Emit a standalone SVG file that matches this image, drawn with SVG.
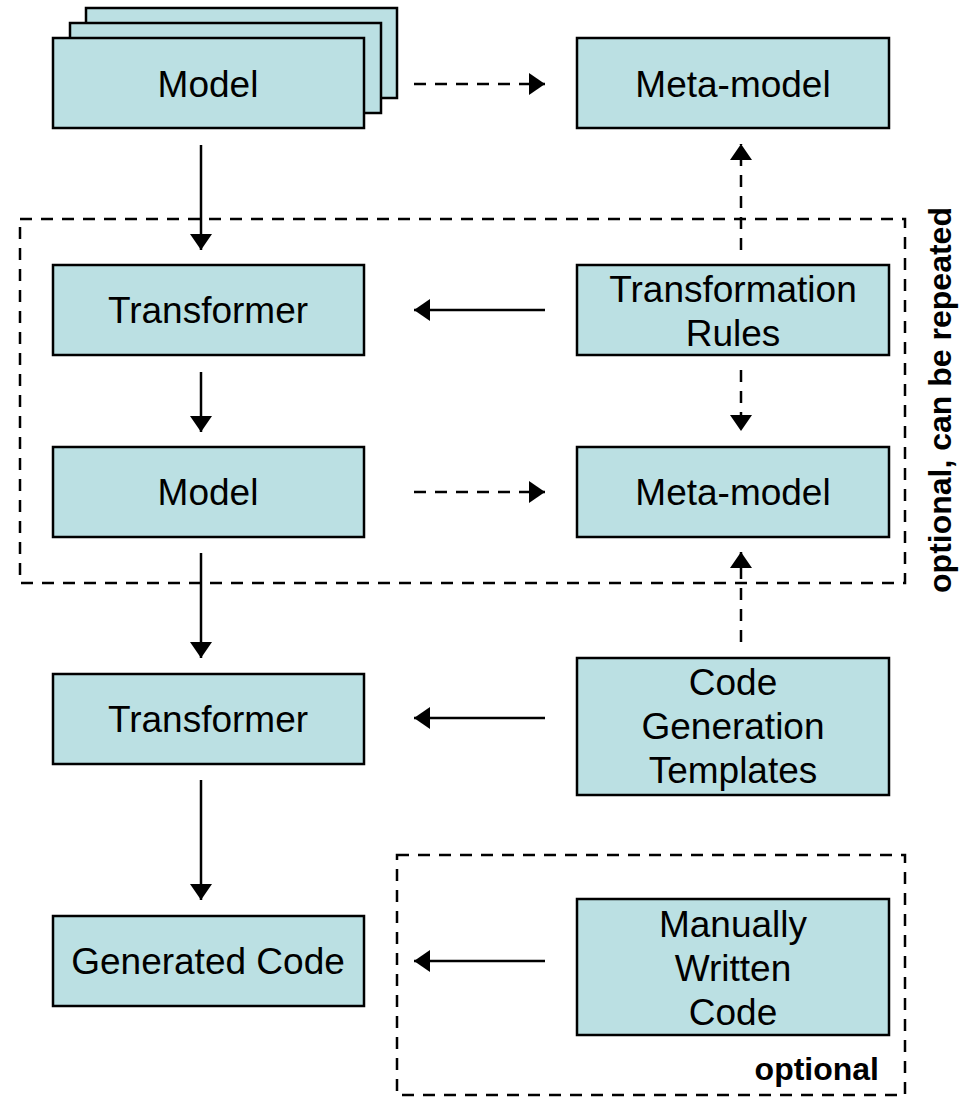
<svg xmlns="http://www.w3.org/2000/svg" width="965" height="1097" viewBox="0 0 965 1097">
<style>
.box{fill:#BBE0E3;stroke:#000;stroke-width:2.5}
.lbl{font-family:"Liberation Sans",Arial,sans-serif;font-size:37px;fill:#000;text-anchor:middle}
.bold{font-family:"Liberation Sans",Arial,sans-serif;font-size:32px;font-weight:bold;fill:#000}
.ln{stroke:#000;stroke-width:2.5;fill:none}
.dash{stroke-dasharray:12 9}
.frame{fill:none;stroke:#000;stroke-width:2.5;stroke-dasharray:12 9}
</style>
<defs>
<marker id="ah" markerWidth="16" markerHeight="22" refX="16" refY="11" orient="auto" markerUnits="userSpaceOnUse">
<path d="M0,0 L16,11 L0,22 Z" fill="#000"/>
</marker>
</defs>
<rect x="20" y="219" width="885" height="364" class="frame"/>
<rect x="397" y="855" width="508" height="240" class="frame"/>
<g id="model1">
<rect x="86" y="8" width="311" height="90" class="box"/>
<rect x="70" y="23" width="311" height="90" class="box"/>
<rect x="53" y="38" width="311" height="90" class="box"/>
<text x="208" y="97" class="lbl">Model</text>
</g>
<g id="metamodel1">
<rect x="577" y="38" width="312" height="90" class="box"/>
<text x="733" y="97" class="lbl">Meta-model</text>
</g>
<g id="transformer1">
<rect x="53" y="265" width="311" height="90" class="box"/>
<text x="208" y="323" class="lbl">Transformer</text>
</g>
<g id="rules">
<rect x="577" y="265" width="312" height="90" class="box"/>
<text x="733" y="302" class="lbl">Transformation</text>
<text x="733" y="346" class="lbl">Rules</text>
</g>
<g id="model2">
<rect x="53" y="447" width="311" height="90" class="box"/>
<text x="208" y="505" class="lbl">Model</text>
</g>
<g id="metamodel2">
<rect x="577" y="447" width="312" height="90" class="box"/>
<text x="733" y="505" class="lbl">Meta-model</text>
</g>
<g id="transformer2">
<rect x="53" y="674" width="311" height="90" class="box"/>
<text x="208" y="732" class="lbl">Transformer</text>
</g>
<g id="templates">
<rect x="577" y="658" width="312" height="137" class="box"/>
<text x="733" y="695" class="lbl">Code</text>
<text x="733" y="739" class="lbl">Generation</text>
<text x="733" y="783" class="lbl">Templates</text>
</g>
<g id="generated">
<rect x="53" y="916" width="311" height="90" class="box"/>
<text x="208" y="974" class="lbl">Generated Code</text>
</g>
<g id="manual">
<rect x="577" y="899" width="312" height="136" class="box"/>
<text x="733" y="937" class="lbl">Manually</text>
<text x="733" y="981" class="lbl">Written</text>
<text x="733" y="1025" class="lbl">Code</text>
</g>
<g id="connectors">
<line x1="414" y1="84" x2="545" y2="84" class="ln dash" marker-end="url(#ah)"/>
<line x1="201" y1="145" x2="201" y2="250" class="ln" marker-end="url(#ah)"/>
<line x1="741" y1="250" x2="741" y2="144" class="ln dash" marker-end="url(#ah)"/>
<line x1="545" y1="310" x2="414" y2="310" class="ln" marker-end="url(#ah)"/>
<line x1="201" y1="372" x2="201" y2="432" class="ln" marker-end="url(#ah)"/>
<line x1="741" y1="370" x2="741" y2="431" class="ln dash" marker-end="url(#ah)"/>
<line x1="414" y1="492" x2="545" y2="492" class="ln dash" marker-end="url(#ah)"/>
<line x1="201" y1="553" x2="201" y2="658" class="ln" marker-end="url(#ah)"/>
<line x1="741" y1="642" x2="741" y2="552" class="ln dash" marker-end="url(#ah)"/>
<line x1="545" y1="718" x2="414" y2="718" class="ln" marker-end="url(#ah)"/>
<line x1="201" y1="780" x2="201" y2="900" class="ln" marker-end="url(#ah)"/>
<line x1="545" y1="961" x2="414" y2="961" class="ln" marker-end="url(#ah)"/>
</g>
<text x="0" y="0" class="bold" text-anchor="middle" transform="translate(951,400) rotate(-90)">optional, can be repeated</text>
<text x="879" y="1080" class="bold" text-anchor="end">optional</text>
</svg>
